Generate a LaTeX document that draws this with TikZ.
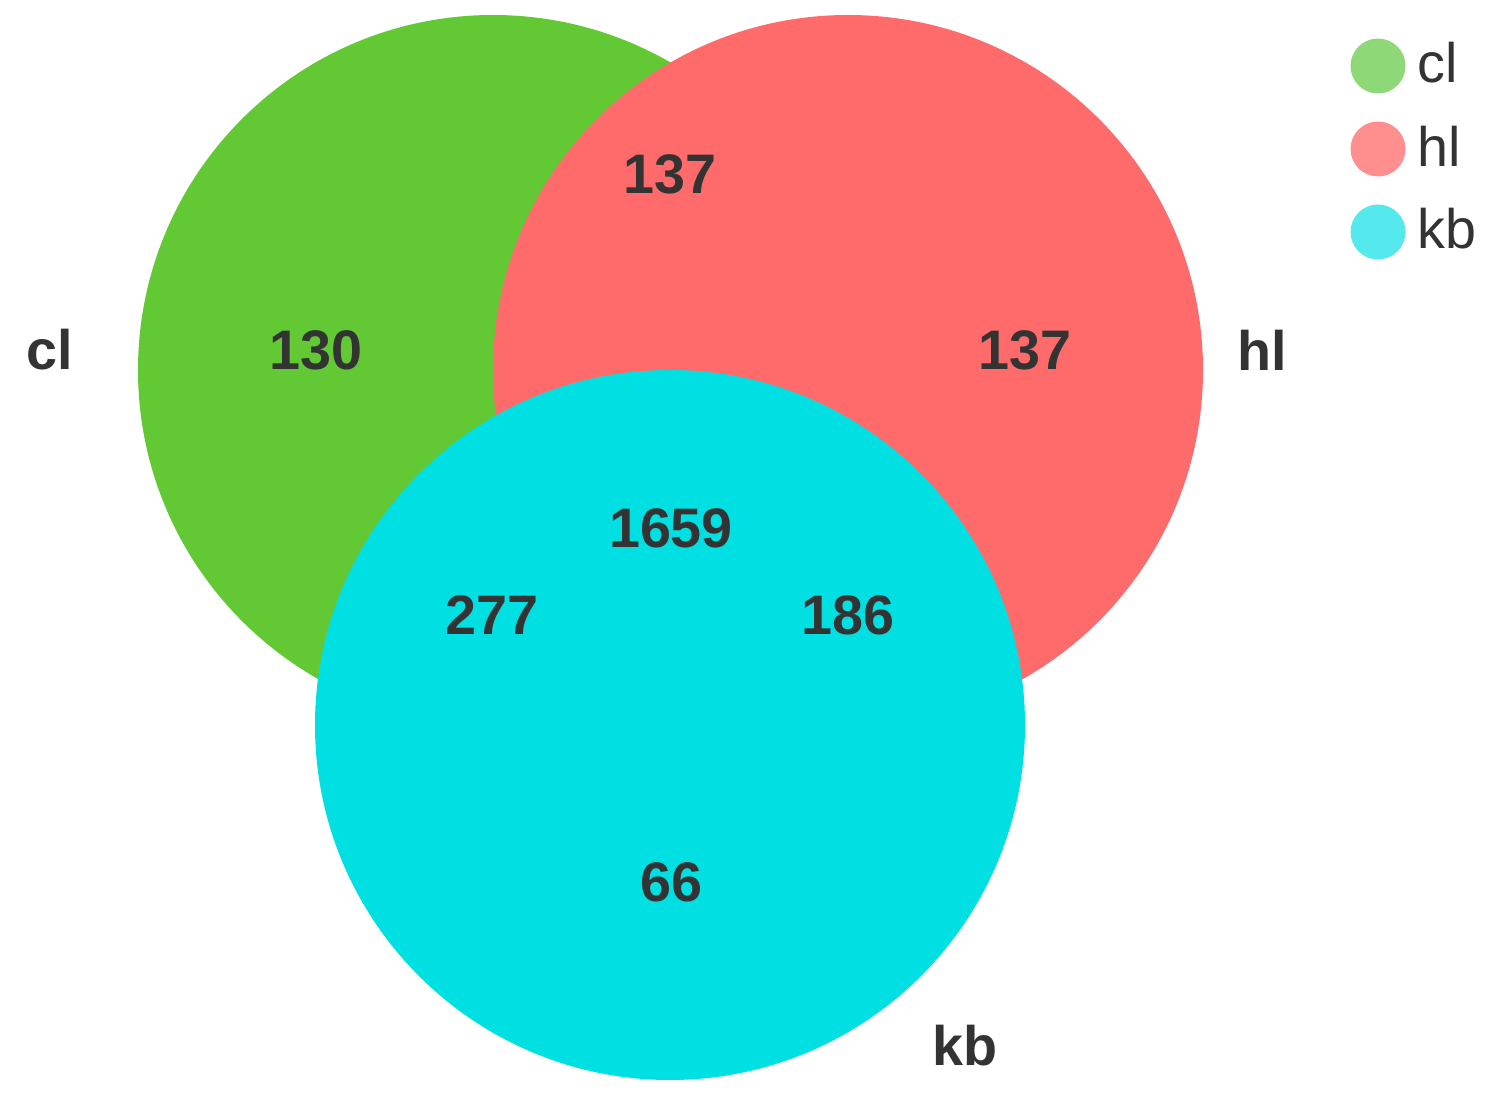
\documentclass[tikz,border=0pt]{standalone}
\usepackage{fontspec}
\setmainfont{Liberation Sans}
\definecolor{cgreen}{HTML}{62C935}
\definecolor{cred}{HTML}{FF6B6B}
\definecolor{ccyan}{HTML}{00E0E3}
\definecolor{lgreen}{HTML}{8FD878}
\definecolor{lred}{HTML}{FF8F8F}
\definecolor{lcyan}{HTML}{55E8EC}
\definecolor{txt}{HTML}{333333}
\begin{document}
\begin{tikzpicture}[x=0.02cm,y=-0.02cm,
  num/.style={font=\fontsize{31.7}{34}\selectfont\bfseries, text=txt, inner sep=0pt},
  setlabel/.style={font=\fontsize{31.7}{34}\selectfont\bfseries, text=txt, inner sep=0pt},
  legtext/.style={font=\fontsize{31.7}{34}\selectfont, text=txt, inner sep=0pt, anchor=west},
  legdot/.style={circle, minimum size=55*0.02cm, inner sep=0pt}]
\useasboundingbox (0,0) rectangle (1497,1114);
\fill[white] (0,0) rectangle (1497,1114);
% circles
\fill[cgreen] (493,370) circle[radius=355*0.02cm];
\fill[cred] (848,370) circle[radius=355*0.02cm];
\fill[ccyan] (670,725) circle[radius=355*0.02cm];
% numbers
\node[num] (n1) at (670,174) {137};
\node[num] (n2) at (316,350) {130};
\node[num] (n3) at (1025,350) {137};
\node[num] (n4) at (671,528) {1659};
\node[num] (n5) at (492,615) {277};
\node[num] (n6) at (848,615) {186};
\node[num] (n7) at (671,882) {66};
% set labels
\node[setlabel] (lcl) at (50,350) {cl};
\node[setlabel] (lhl) at (1262,350) {hl};
\node[setlabel] (lkb) at (965,1046) {kb};
% legend
\node[legdot, fill=lgreen] (d1) at (1378,66) {};
\node[legdot, fill=lred] (d2) at (1378,149) {};
\node[legdot, fill=lcyan] (d3) at (1378,232) {};
\node[legtext] (t1) at (1417,63) {cl};
\node[legtext] (t2) at (1417,146) {hl};
\node[legtext] (t3) at (1417,229) {kb};
\end{tikzpicture}
\end{document}
